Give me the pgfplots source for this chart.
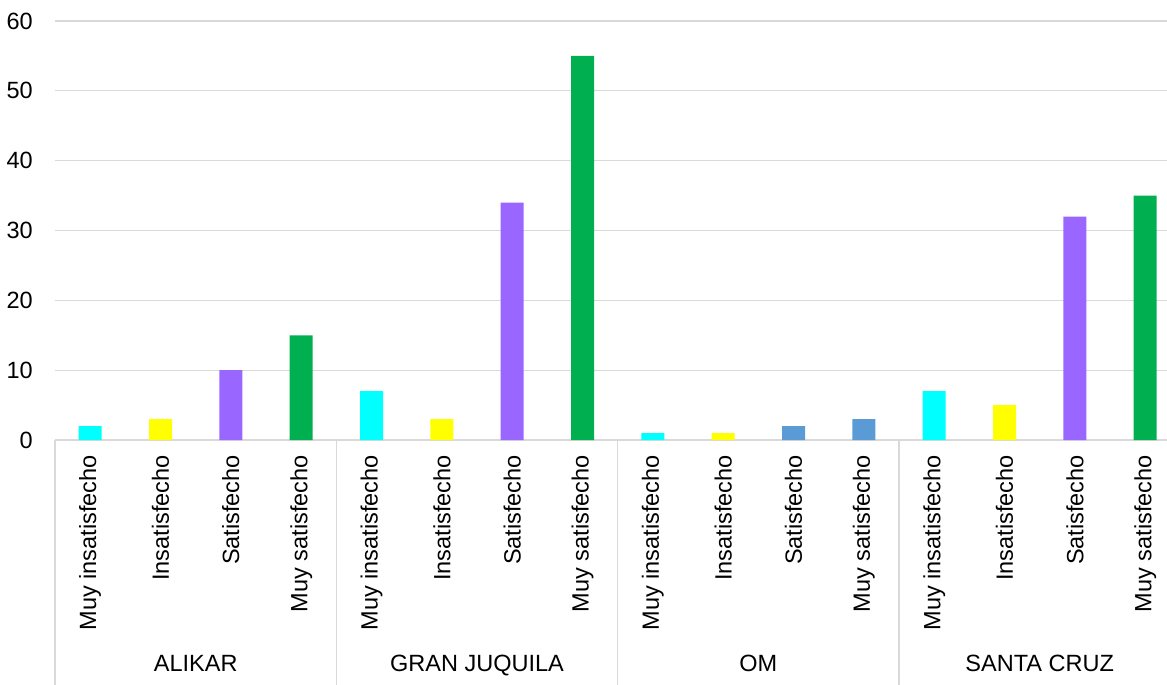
\documentclass[border=0pt]{standalone}
\usepackage{fontspec}
\setmainfont{Liberation Sans}
\usepackage{pgfplots}
\pgfplotsset{compat=1.18}

\definecolor{gridgray}{HTML}{D9D9D9}
\definecolor{barcyan}{HTML}{00FFFF}
\definecolor{baryellow}{HTML}{FFFF00}
\definecolor{barpurple}{HTML}{9966FF}
\definecolor{bargreen}{HTML}{00B050}
\definecolor{barblue}{HTML}{5B9BD5}

\newcommand{\chartfont}{\fontsize{23.6pt}{28pt}\selectfont}

\begin{document}
\begin{tikzpicture}
\begin{axis}[
    width=1112bp, height=419bp,
    scale only axis,
    clip=false,
    xmin=-0.5, xmax=15.31,
    ymin=0, ymax=60,
    ytick={0,10,...,60},
    xtick={0,...,15},
    xticklabels={Muy insatisfecho,Insatisfecho,Satisfecho,Muy satisfecho,
                 Muy insatisfecho,Insatisfecho,Satisfecho,Muy satisfecho,
                 Muy insatisfecho,Insatisfecho,Satisfecho,Muy satisfecho,
                 Muy insatisfecho,Insatisfecho,Satisfecho,Muy satisfecho},
    major tick length=0pt,
    axis x line*=bottom,
    axis y line*=left,
    y axis line style={draw=none},
    x axis line style={draw=gridgray, line width=1.5bp},
    ymajorgrids=true,
    grid style={draw=gridgray, line width=1.3bp},
    /pgf/number format/assume math mode=true,
    tick label style={font=\chartfont},
    yticklabel style={anchor=east, inner sep=0pt, xshift=-22bp},
    xticklabel style={font=\chartfont, inner sep=0pt, yshift=-15bp, rotate=90, anchor=east},
    ybar,
    bar width=0.327,
    every axis plot/.append style={bar shift=0pt, draw=none},
]
\addplot[fill=barcyan]   coordinates {(0,2) (4,7) (8,1) (12,7)};
\addplot[fill=baryellow] coordinates {(1,3) (5,3) (9,1) (13,5)};
\addplot[fill=barpurple] coordinates {(2,10) (6,34) (14,32)};
\addplot[fill=bargreen]  coordinates {(3,15) (7,55) (15,35)};
\addplot[fill=barblue]   coordinates {(10,2) (11,3)};

% group separators and group names
\foreach \s in {-0.5,3.5,7.5,11.5} {
  \edef\temp{\noexpand\draw[gridgray, line width=1.5bp]
    (axis cs:\s,0) -- ([yshift=-245bp]axis cs:\s,0);}
  \temp
}
\node[font=\chartfont, anchor=base] at ([yshift=-231bp]axis cs:1.5,0) {ALIKAR};
\node[font=\chartfont, anchor=base] at ([yshift=-231bp]axis cs:5.5,0) {GRAN JUQUILA};
\node[font=\chartfont, anchor=base] at ([yshift=-231bp]axis cs:9.5,0) {OM};
\node[font=\chartfont, anchor=base] at ([yshift=-231bp]axis cs:13.5,0) {SANTA CRUZ};

\coordinate (O) at (rel axis cs:0,0);
\end{axis}
\pgfresetboundingbox
\path ([shift={(-55bp,-245bp)}]O) rectangle ([shift={(1112bp,440bp)}]O);
\end{tikzpicture}
\end{document}
